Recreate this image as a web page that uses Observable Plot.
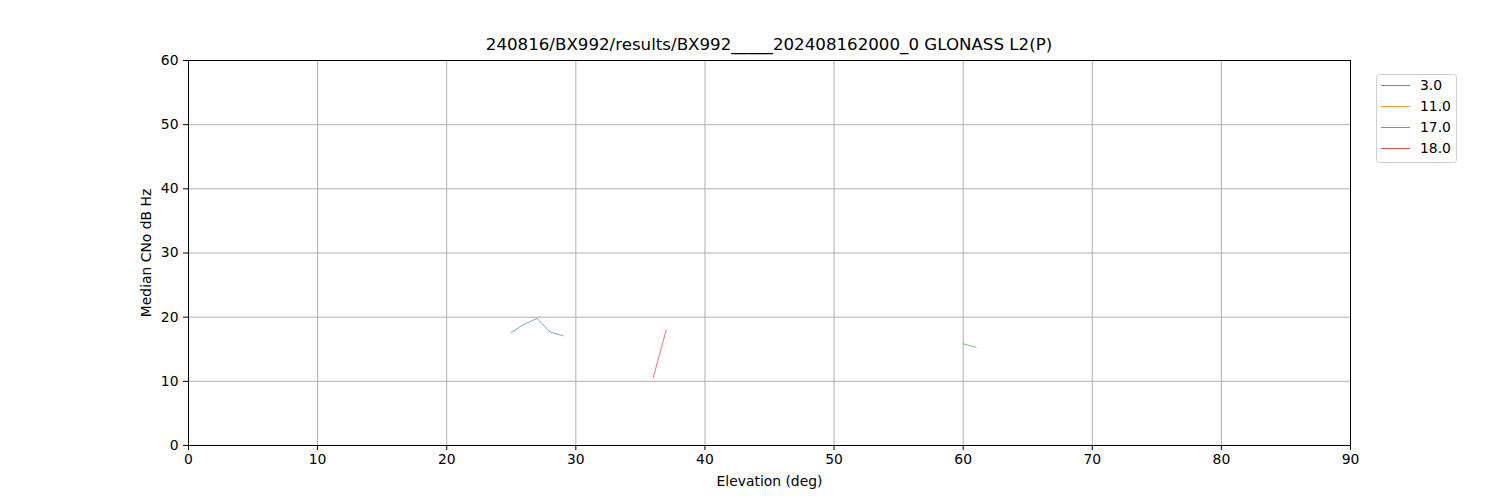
<!DOCTYPE html>
<html><head><meta charset="utf-8">
<script src="https://cdn.jsdelivr.net/npm/d3@7"></script>
<script src="https://cdn.jsdelivr.net/npm/@observablehq/plot@0.6"></script>
<style>
body{margin:0;background:#fff;font-family:"DejaVu Sans",sans-serif;}
#wrap{position:relative;width:1500px;height:500px;}
#title{position:absolute;top:35px;left:188px;width:1162px;text-align:center;font-size:16.67px;color:#000;}
#legend{position:absolute;left:1376px;top:74px;}
</style></head>
<body>
<div id="wrap"><div id="title">240816/BX992/results/BX992_____202408162000_0 GLONASS L2(P)</div><div id="legend"></div></div>
<script>
const seriesNames = ["3.0", "11.0", "17.0", "18.0"];
const seriesColors = ["#1f77b4", "#ff7f0e", "#2ca02c", "#d62728"];
const elev_3 = [25, 26, 27, 28, 29];
const cno_3 = [17.6, 18.9, 19.8, 17.7, 17.1];
const elev_11 = [];
const cno_11 = [];
const elev_17 = [60, 61];
const cno_17 = [15.85, 15.3];
const elev_18 = [36, 37];
const cno_18 = [10.6, 18.0];
const xTicks = [0,10,20,30,40,50,60,70,80,90];
const yTicks = [0,10,20,30,40,50,60];

const allElev = [elev_3, elev_11, elev_17, elev_18];
const allCno = [cno_3, cno_11, cno_17, cno_18];
const rows = [];
seriesNames.forEach((s, i) => allElev[i].forEach((e, j) => rows.push({series: s, elev: e, cno: allCno[i][j]})));

const chart = Plot.plot({
  width: 1500, height: 500,
  marginLeft: 188, marginRight: 150, marginTop: 60, marginBottom: 55,
  style: {fontFamily: "DejaVu Sans, sans-serif", fontSize: "13.9px", color: "#000", background: "#fff"},
  x: {domain: [0, 90]},
  y: {domain: [0, 60]},
  color: {domain: seriesNames, range: seriesColors},
  marks: [
    Plot.gridX(xTicks, {stroke: "#b0b0b0", strokeOpacity: 1, strokeWidth: 1}),
    Plot.gridY(yTicks, {stroke: "#b0b0b0", strokeOpacity: 1, strokeWidth: 1}),
    Plot.line(rows, {x: "elev", y: "cno", z: "series", stroke: "series", strokeWidth: 0.8, strokeOpacity: 0.8}),
    Plot.axisX(xTicks, {tickSize: 5, tickPadding: 4, label: "Elevation (deg)", labelAnchor: "center", labelArrow: "none", labelOffset: 40, fontSize: 13.9}),
    Plot.axisY(yTicks, {tickSize: 5, tickPadding: 5, label: "Median CNo dB Hz", labelAnchor: "center", labelArrow: "none", labelOffset: 47, fontSize: 13.9}),
    Plot.frame({stroke: "#000", strokeWidth: 1})
  ]
});
document.getElementById("wrap").prepend(chart);

// legend
const lg = d3.select("#legend").append("svg").attr("width", 82).attr("height", 90);
lg.append("rect").attr("x", 0.5).attr("y", 0.5).attr("width", 80).attr("height", 88).attr("rx", 3)
  .attr("fill", "#fff").attr("stroke", "#d0d0d0");
seriesNames.forEach((s, i) => {
  const y = 11 + i * 21;
  lg.append("line").attr("x1", 5).attr("x2", 34).attr("y1", y + 0.5).attr("y2", y + 0.5)
    .attr("stroke", seriesColors[i]).attr("stroke-opacity", 0.8).attr("stroke-width", 1);
  lg.append("text").attr("x", 44).attr("y", y).attr("dy", "0.35em").text(s)
    .attr("font-family", "DejaVu Sans, sans-serif").attr("font-size", "13.9px").attr("fill", "#000");
});
</script>
</body></html>
